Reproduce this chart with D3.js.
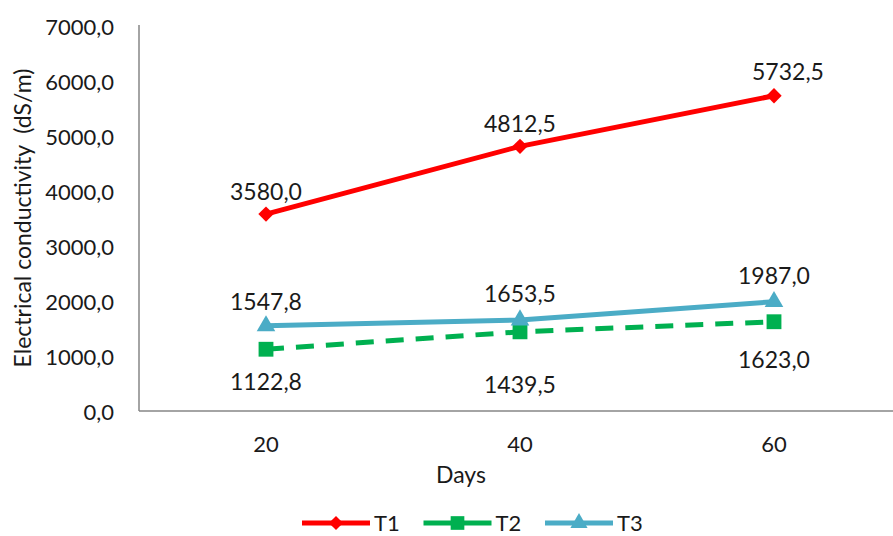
<!DOCTYPE html>
<html>
<head>
<meta charset="utf-8">
<script src="https://cdn.jsdelivr.net/npm/d3@7"></script>
<style>
  html, body { margin: 0; padding: 0; background: #fff; }
  svg { display: block; }
  text { font-family: "Lato", "Open Sans", sans-serif; fill: #1a1a1a; }
</style>
</head>
<body>
<svg id="chart" width="893" height="536"></svg>
<script>
// Days of measurement
const days = ["20", "40", "60"];
// Electrical conductivity (dS/m) per treatment
const t1 = [3580.0, 4812.5, 5732.5];
const t2 = [1122.8, 1439.5, 1623.0];
const t3 = [1547.8, 1653.5, 1987.0];
const yTicks = [0, 1000, 2000, 3000, 4000, 5000, 6000, 7000];

const series = [
  { name: "T1", values: t1, color: "#ff0000", dash: null, marker: "diamond" },
  { name: "T2", values: t2, color: "#00b050", dash: "18,12", marker: "square" },
  { name: "T3", values: t3, color: "#4bacc6", dash: null, marker: "triangle" }
];

const svg = d3.select("#chart");
const plotLeft = 139, plotBottom = 411, plotTop = 26;

const x = d3.scalePoint().domain(days).range([plotLeft, plotLeft + 3 * 254]).padding(0.5);
const y = d3.scaleLinear().domain([0, 7000]).range([plotBottom, plotTop]);

const fmt = v => d3.format(".1f")(v).replace(".", ",");

// axis lines
svg.append("line").attr("x1", plotLeft).attr("x2", plotLeft).attr("y1", plotTop - 1).attr("y2", plotBottom)
  .attr("stroke", "#868686").attr("stroke-width", 1.5);
svg.append("line").attr("x1", plotLeft).attr("x2", 893).attr("y1", plotBottom).attr("y2", plotBottom)
  .attr("stroke", "#868686").attr("stroke-width", 1.5);

// y tick labels
svg.append("g").selectAll("text").data(yTicks).join("text")
  .attr("x", 114).attr("y", d => y(d)).attr("text-anchor", "end")
  .attr("dominant-baseline", "central").attr("font-size", 22)
  .text(d => fmt(d));

// x tick labels
svg.append("g").selectAll("text").data(days).join("text")
  .attr("x", d => x(d)).attr("y", 443).attr("text-anchor", "middle")
  .attr("dominant-baseline", "central").attr("font-size", 22)
  .text(d => d);

// axis titles
svg.append("text").attr("x", 461).attr("y", 474).attr("text-anchor", "middle")
  .attr("dominant-baseline", "central").attr("font-size", 23).text("Days");
svg.append("text").attr("transform", "translate(22,218) rotate(-90)")
  .attr("text-anchor", "middle").attr("dominant-baseline", "central")
  .attr("font-size", 23).style("white-space", "pre").text("Electrical conductivity  (dS/m)");

function markerPath(type, scale = 1) {
  if (type === "diamond") return d3.symbol().type(d3.symbolDiamond2).size(150 * scale)();
  if (type === "square") return d3.symbol().type(d3.symbolSquare).size(220 * scale)();
  return d3.symbol().type(d3.symbolTriangle).size(150 * scale)();
}

const line = d3.line().x((d, i) => x(days[i])).y(d => y(d));

// lines and markers
series.forEach(s => {
  const g = svg.append("g");
  g.append("path").attr("d", line(s.values)).attr("fill", "none")
    .attr("stroke", s.color).attr("stroke-width", 5)
    .attr("stroke-dasharray", s.dash);
  g.selectAll("path.m").data(s.values).join("path").attr("class", "m")
    .attr("d", markerPath(s.marker))
    .attr("transform", (d, i) => `translate(${x(days[i])},${y(d)})`)
    .attr("fill", s.color);
});

// data labels; small nudges keep overlapping labels apart
const nudge = {
  T1: [[0, -23], [0, -23], [14, -25]],
  T2: [[0, 32], [0, 52], [0, 37]],
  T3: [[0, -25], [0, -27], [0, -27]]
};
series.forEach(s => {
  svg.append("g").selectAll("text").data(s.values).join("text")
    .attr("x", (d, i) => x(days[i]) + nudge[s.name][i][0])
    .attr("y", (d, i) => y(d) + nudge[s.name][i][1])
    .attr("text-anchor", "middle").attr("dominant-baseline", "central")
    .attr("font-size", 23).text(d => fmt(d));
});

// legend
const legend = svg.append("g");
series.forEach((s, i) => {
  const lx = 302 + i * 121.5, ly = 523;
  legend.append("line").attr("x1", lx).attr("x2", lx + 68).attr("y1", ly).attr("y2", ly)
    .attr("stroke", s.color).attr("stroke-width", 5);
  legend.append("path").attr("d", markerPath(s.marker, 0.85))
    .attr("transform", `translate(${lx + 34},${ly})`).attr("fill", s.color);
  legend.append("text").attr("x", lx + 72).attr("y", ly - 1).attr("dominant-baseline", "central")
    .attr("font-size", 22).text(s.name);
});
</script>
</body>
</html>
